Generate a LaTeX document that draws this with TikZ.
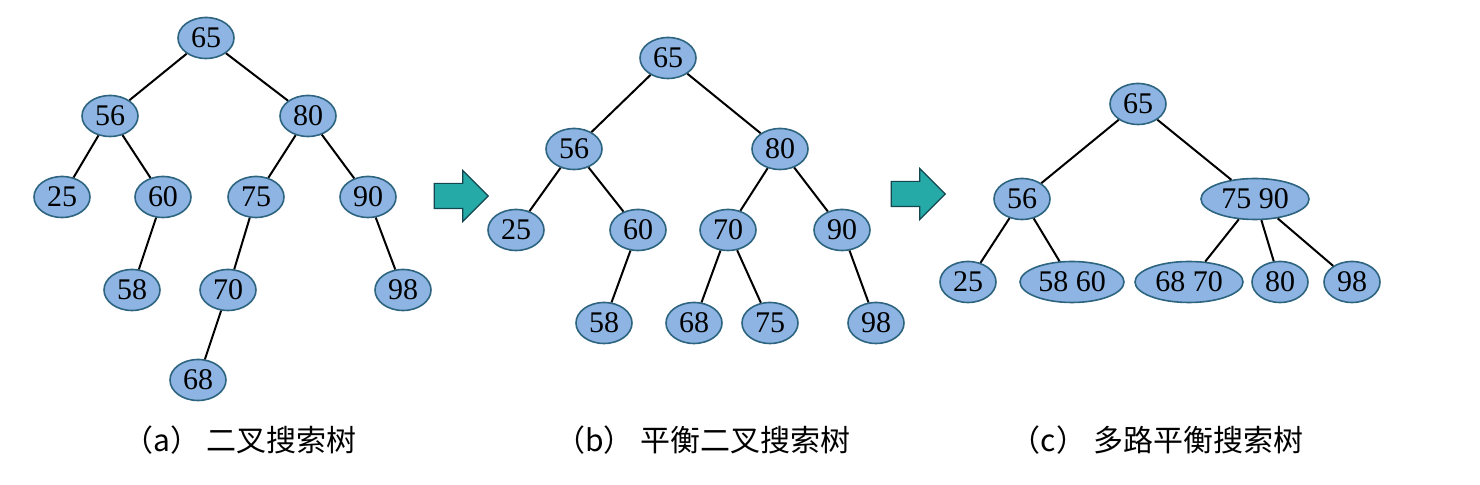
\documentclass[tikz,border=0pt]{standalone}
\usepackage{fontspec}
\setmainfont{Liberation Serif}
\newfontfamily\cjk{Noto Sans CJK SC}
\usepackage{xcolor}
\usetikzlibrary{shapes.geometric,shapes.arrows}

\definecolor{nodefill}{RGB}{141,180,226}
\definecolor{nodeline}{RGB}{45,100,128}
\definecolor{arrowfill}{RGB}{38,170,168}
\definecolor{arrowline}{RGB}{20,70,80}

\begin{document}
\begin{tikzpicture}[
  x=0.5pt, y=-0.5pt,
  key/.style={ellipse, draw=nodeline, fill=nodefill, line width=0.8pt, inner sep=0pt, minimum width=28pt, minimum height=20.5pt, font=\fontsize{15}{15}\selectfont},
  widekey/.style={key, minimum width=54pt},
  link/.style={draw=black, line width=1pt},
  turn/.style={single arrow, draw=arrowline, fill=arrowfill, line width=0.6pt, minimum height=27pt, inner xsep=0pt, inner ysep=6pt, single arrow head extend=6.5pt},
  caption/.style={font=\cjk\fontsize{15}{15}\selectfont}
]
  \useasboundingbox (0,0) rectangle (1480,485);

  % (a) binary search tree
  \node[key] (a65) at (206,38) {65};
  \node[key] (a56) at (110,116) {56};
  \node[key] (a80) at (308,116) {80};
  \node[key] (a25) at (62,197) {25};
  \node[key] (a60) at (163,197) {60};
  \node[key] (a75) at (256,197) {75};
  \node[key] (a90) at (368,197) {90};
  \node[key] (a58) at (132,290) {58};
  \node[key] (a70) at (228,290) {70};
  \node[key] (a98) at (403,290) {98};
  \node[key] (a68) at (198,380) {68};

  \draw[link] (a65) -- (a56);
  \draw[link] (a65) -- (a80);
  \draw[link] (a56) -- (a25);
  \draw[link] (a56) -- (a60);
  \draw[link] (a80) -- (a75);
  \draw[link] (a80) -- (a90);
  \draw[link] (a60) -- (a58);
  \draw[link] (a75) -- (a70);
  \draw[link] (a90) -- (a98);
  \draw[link] (a70) -- (a68);

  \node[turn] (turn1) at (455,196) {};

  % (b) balanced binary search tree
  \node[key] (b65) at (668,58) {65};
  \node[key] (b56) at (574,149) {56};
  \node[key] (b80) at (780,149) {80};
  \node[key] (b25) at (516,230) {25};
  \node[key] (b60) at (638,230) {60};
  \node[key] (b70) at (728,230) {70};
  \node[key] (b90) at (842,230) {90};
  \node[key] (b58) at (604,323) {58};
  \node[key] (b68) at (694,323) {68};
  \node[key] (b75) at (770,323) {75};
  \node[key] (b98) at (876,323) {98};

  \draw[link] (b65) -- (b56);
  \draw[link] (b65) -- (b80);
  \draw[link] (b56) -- (b25);
  \draw[link] (b56) -- (b60);
  \draw[link] (b80) -- (b70);
  \draw[link] (b80) -- (b90);
  \draw[link] (b60) -- (b58);
  \draw[link] (b70) -- (b68);
  \draw[link] (b70) -- (b75);
  \draw[link] (b90) -- (b98);

  \node[turn] (turn2) at (912,194) {};

  % (c) multiway balanced search tree
  \node[key] (c65) at (1138,104) {65};
  \node[key] (c56) at (1022,199) {56};
  \node[widekey] (c7590) at (1255,199) {75 90};
  \node[key] (c25) at (968,282) {25};
  \node[widekey, minimum width=52pt] (c5860) at (1072,282) {58 60};
  \node[widekey] (c6870) at (1189,282) {68 70};
  \node[key] (c80) at (1280,282) {80};
  \node[key] (c98) at (1352,282) {98};

  \draw[link] (c65) -- (c56);
  \draw[link] (c65) -- (c7590);
  \draw[link] (c56) -- (c25);
  \draw[link] (c56) -- (c5860);
  \draw[link] (c7590) -- (c6870);
  \draw[link] (c7590) -- (c80);
  \draw[link] (c7590) -- (c98);

  % captions
  \node[caption] (capa) at (240,440) {（a） 二叉搜索树};
  \node[caption] (capb) at (703,440) {（b） 平衡二叉搜索树};
  \node[caption] (capc) at (1157,440) {（c） 多路平衡搜索树};
\end{tikzpicture}
\end{document}
